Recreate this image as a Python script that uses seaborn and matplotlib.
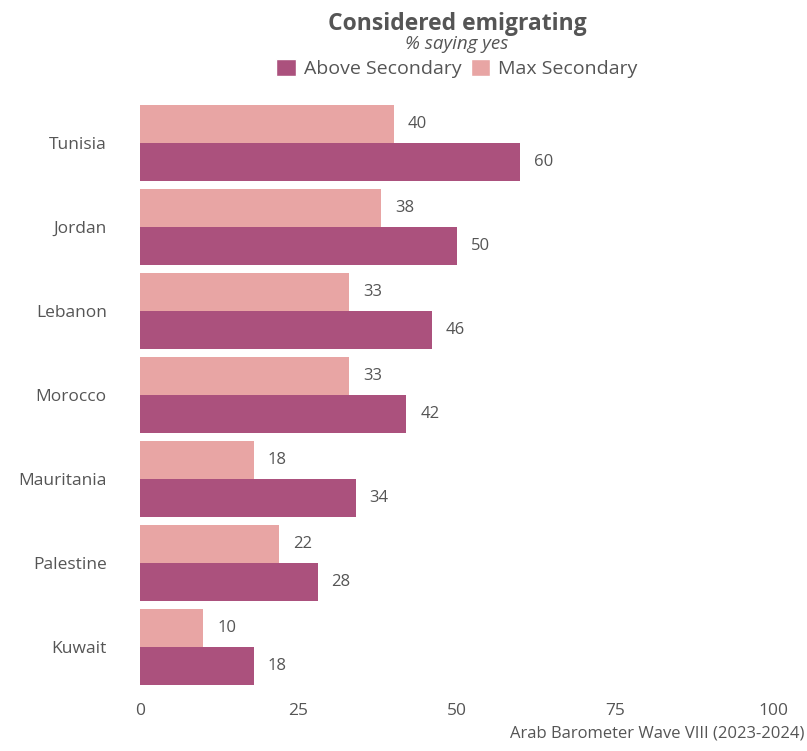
import pandas as pd
import matplotlib.pyplot as plt
import seaborn as sns
from matplotlib.patches import Patch

# Data
countries = ["Tunisia", "Jordan", "Lebanon", "Morocco", "Mauritania", "Palestine", "Kuwait"]
max_secondary = [40, 38, 33, 33, 18, 22, 10]
above_secondary = [60, 50, 46, 42, 34, 28, 18]
x_ticks = [0, 25, 50, 75, 100]

purple = "#AB517D"
pink = "#E8A5A4"
grey = "#555555"

df = pd.DataFrame({
    "Country": countries * 2,
    "Value": max_secondary + above_secondary,
    "Education": ["Max Secondary"] * len(countries) + ["Above Secondary"] * len(countries),
})

sns.set_theme(style="white")
plt.rcParams["font.family"] = ["Open Sans", "DejaVu Sans"]

fig = plt.figure(figsize=(8.07, 7.51), dpi=100)
ax = fig.add_axes([0.1735, 0.0826, 0.7855, 0.7829])

sns.barplot(data=df, x="Value", y="Country", hue="Education",
            hue_order=["Max Secondary", "Above Secondary"],
            palette={"Max Secondary": pink, "Above Secondary": purple},
            order=countries, width=0.9, saturation=1, linewidth=0,
            ax=ax, legend=False)

for container in ax.containers:
    ax.bar_label(container, fmt="%g", padding=10, fontsize=12, color=grey)

ax.set_xlim(0, 100)
ax.set_xticks(x_ticks)
ax.set_xlabel("")
ax.set_ylabel("")
ax.tick_params(axis="x", labelsize=12.5, labelcolor=grey, length=0, pad=10)
ax.tick_params(axis="y", labelsize=12.5, labelcolor=grey, length=0, pad=24)
sns.despine(left=True, bottom=True)

cx = 0.1735 + 0.7855 / 2
fig.text(cx, 0.968, "Considered emigrating", ha="center", va="center",
         fontsize=16.5, fontweight="bold", color=grey)
fig.text(cx, 0.941, "% saying yes", ha="center", va="center",
         fontsize=13.5, style="italic", color=grey)

handles = [Patch(facecolor=purple, label="Above Secondary"),
           Patch(facecolor=pink, label="Max Secondary")]
leg = fig.legend(handles=handles, loc="center", bbox_to_anchor=(cx, 0.909), ncol=2,
                 frameon=False, fontsize=14, handlelength=1.0, handleheight=1.0,
                 handletextpad=0.4, columnspacing=0.5)
for t in leg.get_texts():
    t.set_color(grey)

fig.text(0.997, 0.012, "Arab Barometer Wave VIII (2023-2024)", ha="right", va="bottom",
         fontsize=12, color=grey)

plt.savefig("out.png", dpi=100)
plt.close()
